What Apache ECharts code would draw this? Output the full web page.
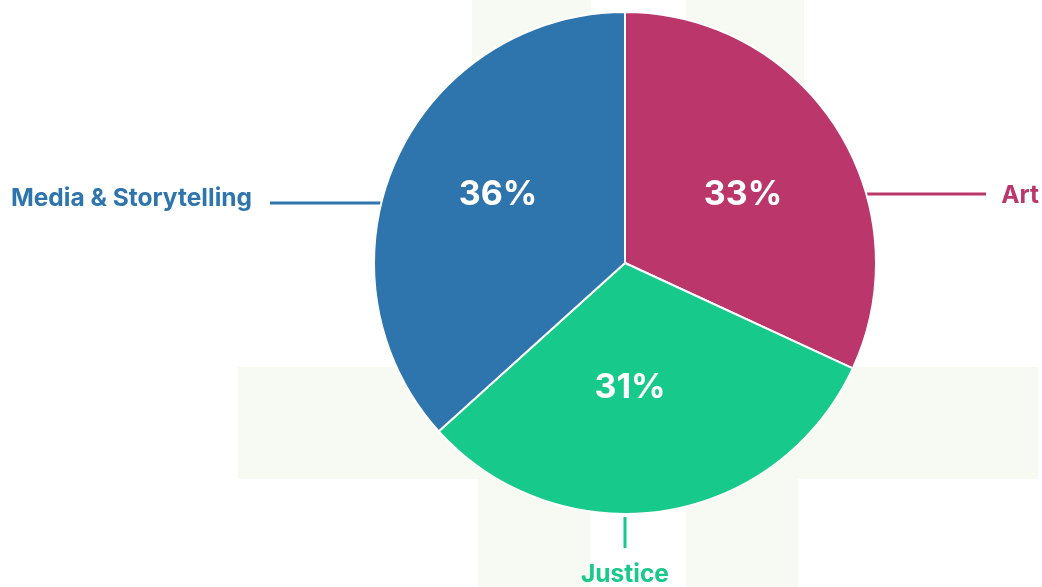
<!DOCTYPE html>
<html>
<head>
<meta charset="utf-8">
<script src="https://cdn.jsdelivr.net/npm/echarts@6/dist/echarts.min.js"></script>
<style>
html, body { margin: 0; padding: 0; background: #fff; }
#chart { width: 1042px; height: 587px; }
</style>
</head>
<body>
<div id="chart"></div>
<script>
// data (slice sizes, printed labels as shown)
const names = ['Art', 'Justice', 'Media & Storytelling']
const values = [31.9, 31.4, 36.7]
const pctLabels = ['33%', '31%', '36%']
const colors = ['#bb376b', '#17c98a', '#2e75ad']

const cx = 625, cy = 263, r = 251
const bg = '#f7faf2'
const font = 'Inter'

var myChart = echarts.init(document.getElementById('chart'))

const pieData = names.map((n, i) => ({ name: n, value: values[i], itemStyle: { color: colors[i] } }))

// name labels sit at hand-placed spots with straight leader lines
function nameLayout(params) {
    const i = params.dataIndex
    if (i == 0) {
        const y = cy - 69
        return { x: 1039, y: y + 2, align: 'right', verticalAlign: 'middle',
            labelLinePoints: [[cx + Math.sqrt(r * r - 69 * 69) - 3, y], [986, y], [986, y]] }
    }
    if (i == 1) {
        return { x: cx, y: 575, align: 'center', verticalAlign: 'middle',
            labelLinePoints: [[cx, cy + r + 3], [cx, 548], [cx, 548]] }
    }
    const y = cy - 61
    return { x: 252, y: y - 3, align: 'right', verticalAlign: 'middle',
        labelLinePoints: [[cx - Math.sqrt(r * r - 61 * 61) + 3, y + 1], [270, y + 1], [270, y + 1]] }
}

// percentage labels, offsets from the pie centre
const pctOffsets = [[118, -68], [5, 125], [-127, -68]]
function pctLayout(params) {
    const o = pctOffsets[params.dataIndex]
    return { x: cx + o[0], y: cy + o[1], align: 'center', verticalAlign: 'middle' }
}

var option = {
    backgroundColor: '#fff',
    animation: false,
    graphic: [
        { type: 'rect', shape: { x: 472, y: 0, width: 119, height: 380 }, style: { fill: bg }, z: -10 },
        { type: 'rect', shape: { x: 686, y: 0, width: 118, height: 380 }, style: { fill: bg }, z: -10 },
        { type: 'rect', shape: { x: 238, y: 367, width: 800, height: 112 }, style: { fill: bg }, z: -10 },
        { type: 'rect', shape: { x: 478, y: 470, width: 112, height: 117 }, style: { fill: bg }, z: -10 },
        { type: 'rect', shape: { x: 686, y: 470, width: 112, height: 117 }, style: { fill: bg }, z: -10 }
    ],
    series: [
        {
            type: 'pie',
            center: [cx, cy],
            radius: r,
            startAngle: 90,
            clockwise: true,
            data: pieData,
            itemStyle: { borderColor: '#fff', borderWidth: 2 },
            label: {
                show: true,
                position: 'outside',
                formatter: '{b}',
                fontFamily: font,
                fontWeight: 'bold',
                fontSize: 24.5,
                color: 'inherit'
            },
            labelLine: { show: true, lineStyle: { width: 3 } },
            labelLayout: nameLayout,
            emphasis: { disabled: true }
        },
        {
            type: 'pie',
            center: [cx, cy],
            radius: r,
            startAngle: 90,
            clockwise: true,
            silent: true,
            data: pieData.map(d => ({ name: d.name, value: d.value })),
            itemStyle: { color: 'rgba(0,0,0,0)' },
            label: {
                show: true,
                position: 'inside',
                formatter: p => pctLabels[p.dataIndex],
                fontFamily: font,
                fontWeight: 'bold',
                fontSize: 34,
                color: '#fff'
            },
            labelLayout: pctLayout,
            labelLine: { show: false },
            emphasis: { disabled: true }
        }
    ]
}

option && myChart.setOption(option)
</script>
</body>
</html>
